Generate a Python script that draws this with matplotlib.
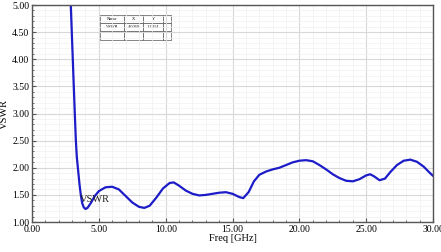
import numpy as np
import matplotlib
matplotlib.use("Agg")
import matplotlib.pyplot as plt
from matplotlib.ticker import MultipleLocator

freq = [2.9, 3.05, 3.2, 3.28, 3.35, 3.43, 3.55, 3.65, 3.75, 3.87, 4.0, 4.15,
        4.4, 4.7, 5.0, 5.5, 6.0, 6.5, 7.0, 7.5, 8.0, 8.4, 8.8, 9.3, 9.8,
        10.3, 10.6, 11.0, 11.5, 12.0, 12.5, 13.0, 13.5, 14.0, 14.5, 15.0,
        15.5, 15.8, 16.2, 16.6, 17.0, 17.5, 18.0, 18.5, 19.0, 19.5, 20.0,
        20.5, 21.0, 21.5, 22.0, 22.5, 23.0, 23.5, 24.0, 24.5, 25.0, 25.3,
        25.6, 26.0, 26.4, 26.8, 27.3, 27.8, 28.3, 28.8, 29.3, 29.7, 30.0]
vswr = [5.0, 4.0, 3.0, 2.5, 2.2, 2.0, 1.7, 1.5, 1.35, 1.27, 1.24, 1.26,
        1.35, 1.48, 1.57, 1.64, 1.65, 1.6, 1.48, 1.36, 1.28, 1.26, 1.3, 1.45, 1.62,
        1.72, 1.73, 1.67, 1.58, 1.52, 1.49, 1.50, 1.52, 1.54, 1.55, 1.52,
        1.46, 1.44, 1.55, 1.75, 1.87, 1.93, 1.97, 2.0, 2.05, 2.1, 2.13,
        2.14, 2.12, 2.05, 1.97, 1.88, 1.81, 1.76, 1.75, 1.79, 1.86, 1.88,
        1.84, 1.77, 1.8, 1.92, 2.05, 2.13, 2.15, 2.11, 2.02, 1.92, 1.85]

table_cols = ["Name", "X", "Y", ""]
table_row = ["VSWR", "4.0060", "1.2414", ""]

plt.rcParams['font.family'] = ['Liberation Serif', 'DejaVu Serif']

fig = plt.figure(figsize=(4.41, 2.52), dpi=100)
ax = fig.add_axes([0.0726, 0.119, 0.9094, 0.861])

ax.plot(freq, vswr, color='#1c1cc8', lw=1.6, solid_capstyle='round')
ax.set_xlim(0, 30)
ax.set_ylim(1, 5)
ax.xaxis.set_major_locator(MultipleLocator(5))
ax.xaxis.set_minor_locator(MultipleLocator(1))
ax.yaxis.set_major_locator(MultipleLocator(0.5))
ax.yaxis.set_minor_locator(MultipleLocator(0.1))
ax.xaxis.set_major_formatter(plt.FormatStrFormatter('%.2f'))
ax.yaxis.set_major_formatter(plt.FormatStrFormatter('%.2f'))
ax.grid(which='major', color='#d8d8d8', lw=0.8)
ax.grid(which='minor', color='#f0f0f0', lw=0.5)
ax.set_axisbelow(True)
ax.tick_params(which='both', labelsize=7, color='#555555', direction='in', pad=2)
ax.tick_params(which='major', length=3)
ax.tick_params(which='minor', length=1.5)
for s in ax.spines.values():
    s.set_color('#555555')
    s.set_linewidth(1.0)

ax.set_xlabel("Freq [GHz]", fontsize=7.5, labelpad=0)
ax.set_ylabel("VSWR", fontsize=7.5)
ax.yaxis.set_label_coords(-0.058, 0.5)
ax.text(3.6, 1.36, "VSWR", fontsize=7.5, color='#222222')

tbl = ax.table(cellText=[table_row, ["", "", "", ""]], colLabels=table_cols,
               bbox=[0.17, 0.84, 0.177, 0.115],
               colWidths=[0.34, 0.27, 0.27, 0.12], cellLoc='center')
tbl.auto_set_font_size(False)
tbl.set_fontsize(3.2)
for (r, c), cell in tbl.get_celld().items():
    cell.set_linewidth(0.5)
    cell.set_edgecolor('#555555')
    cell.set_facecolor('white')
    cell.PAD = 0.02

fig.savefig("out.png", dpi=100)
